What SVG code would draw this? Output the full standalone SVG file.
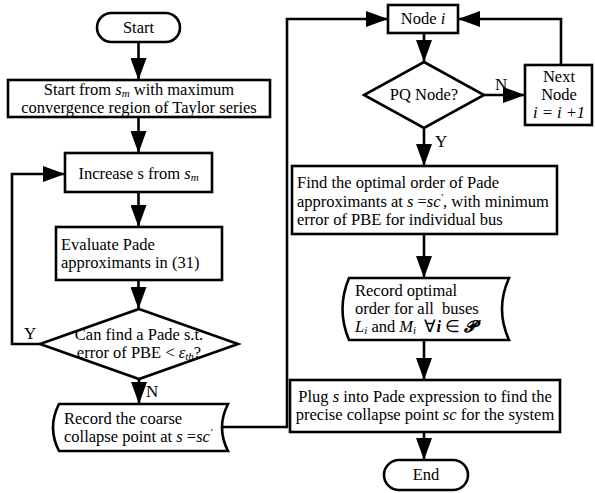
<svg xmlns="http://www.w3.org/2000/svg" width="595" height="493" viewBox="0 0 595 493">
<style>
.n{fill:#fff;stroke:#000;stroke-width:2.6}
.c{fill:none;stroke:#000;stroke-width:2.6}
text{font-family:"Liberation Serif","Times New Roman",serif;font-size:16.5px;fill:#000}
.m{text-anchor:middle}
.i{font-style:italic}
.s{font-style:italic;font-size:11px}
.l{font-size:17px}
</style>
<defs>
<marker id="ah" markerWidth="22" markerHeight="16" refX="22" refY="8" orient="auto" markerUnits="userSpaceOnUse">
<path d="M0,0 L22,8 L0,16 Z" fill="#000"/>
</marker>
</defs>
<rect width="595" height="493" fill="#fff"/>
<g id="connectors">
<path class="c" d="M138.5,42 V80" marker-end="url(#ah)"/>
<path class="c" d="M138.5,117 V153" marker-end="url(#ah)"/>
<path class="c" d="M138.5,192 V227" marker-end="url(#ah)"/>
<path class="c" d="M138.5,280 V309" marker-end="url(#ah)"/>
<path class="c" d="M40,344 H12 V174 H65" marker-end="url(#ah)"/>
<path class="c" d="M139,379 V404" marker-end="url(#ah)"/>
<path class="c" d="M222,427 H287 V19 H388" marker-end="url(#ah)"/>
<path class="c" d="M424,33 V62" marker-end="url(#ah)"/>
<path class="c" d="M484,95 H525" marker-end="url(#ah)"/>
<path class="c" d="M561,65 V19 H458" marker-end="url(#ah)"/>
<path class="c" d="M424,128 V166" marker-end="url(#ah)"/>
<path class="c" d="M424,234 V278" marker-end="url(#ah)"/>
<path class="c" d="M424,340 V380" marker-end="url(#ah)"/>
<path class="c" d="M424,432 V460" marker-end="url(#ah)"/>
<text class="l" x="24" y="339">Y</text>
<text class="l" x="146" y="397">N</text>
<text class="l" x="495" y="90">N</text>
<text class="l" x="435" y="147">Y</text>
</g>
<g id="start">
<rect class="n" x="97" y="13" width="83" height="29" rx="14.5"/>
<text class="m" x="138.5" y="33">Start</text>
</g>
<g id="init">
<rect class="n" x="8" y="80" width="262" height="37"/>
<text class="m" x="139" y="95">Start from <tspan class="i">s</tspan><tspan class="s" dy="2">m</tspan><tspan dy="-2"> with maximum</tspan></text>
<text class="m" x="139" y="112.5">convergence region of Taylor series</text>
</g>
<g id="increase">
<rect class="n" x="65" y="153" width="147" height="39"/>
<text class="m" x="138.5" y="179">Increase s from <tspan class="i">s</tspan><tspan class="s" dy="2">m</tspan></text>
</g>
<g id="evaluate">
<rect class="n" x="56" y="227" width="166" height="53"/>
<text x="61" y="250">Evaluate Pade</text>
<text x="61" y="268">approximants in (31)</text>
</g>
<g id="decision1">
<polygon class="n" points="139,309 238,344 139,379 40,344"/>
<text class="m" x="139" y="340">Can find a Pade s.t.</text>
<text class="m" x="139" y="358">error of PBE &lt; <tspan class="i">ε</tspan><tspan class="s" dy="2">th</tspan><tspan dy="-2">?</tspan></text>
</g>
<g id="coarse">
<path class="n" d="M59,404 L228,404 Q216,427.5 228,451 L59,451 Q47,427.5 59,404 Z"/>
<text x="64" y="424">Record the coarse</text>
<text x="64" y="442">collapse point at <tspan class="i">s</tspan> =<tspan class="i">sc</tspan><tspan class="s" dy="-6">′</tspan></text>
</g>
<g id="nodei">
<rect class="n" x="388" y="5" width="70" height="28"/>
<text class="m" x="423" y="24">Node <tspan class="i">i</tspan></text>
</g>
<g id="pq">
<polygon class="n" points="424,62 484,95 424,128 364,95"/>
<text class="m" x="424" y="100">PQ Node?</text>
</g>
<g id="nextnode">
<rect class="n" x="525" y="65" width="67" height="60"/>
<text class="m" x="559" y="82">Next</text>
<text class="m" x="559" y="100">Node</text>
<text class="m i" x="559" y="118">i = i +1</text>
</g>
<g id="findorder">
<rect class="n" x="292" y="166" width="265" height="68"/>
<text x="297" y="188">Find the optimal order of Pade</text>
<text x="297" y="207">approximants at <tspan class="i">s</tspan> =<tspan class="i">sc</tspan><tspan class="s" dy="-6">′</tspan><tspan dy="6">, with minimum</tspan></text>
<text x="297" y="225">error of PBE for individual bus</text>
</g>
<g id="recordopt">
<path class="n" d="M349,278 L509,278 Q495,309 509,340 L349,340 Q336,309 349,278 Z"/>
<text x="355" y="296">Record optimal</text>
<text x="355" y="314" xml:space="preserve">order for all  buses</text>
<text x="355" y="332"><tspan class="i">L</tspan><tspan class="s" dy="2">i</tspan><tspan dy="-2"> and </tspan><tspan class="i">M</tspan><tspan class="s" dy="2">i</tspan><tspan dy="-2" xml:space="preserve">  ∀</tspan><tspan font-weight="bold" font-style="italic">i</tspan> ∈ <tspan font-family="'DejaVu Serif','DejaVu Sans',serif" font-weight="bold" font-style="italic">𝓟</tspan></text>
</g>
<g id="plug">
<rect class="n" x="290" y="380" width="270" height="52"/>
<text class="m" x="425" y="402">Plug <tspan class="i">s</tspan> into Pade expression to find the</text>
<text class="m" x="425" y="420">precise collapse point <tspan class="i">sc</tspan> for the system</text>
</g>
<g id="end">
<rect class="n" x="384" y="460" width="84" height="30" rx="15"/>
<text class="m" x="426" y="480">End</text>
</g>
</svg>
